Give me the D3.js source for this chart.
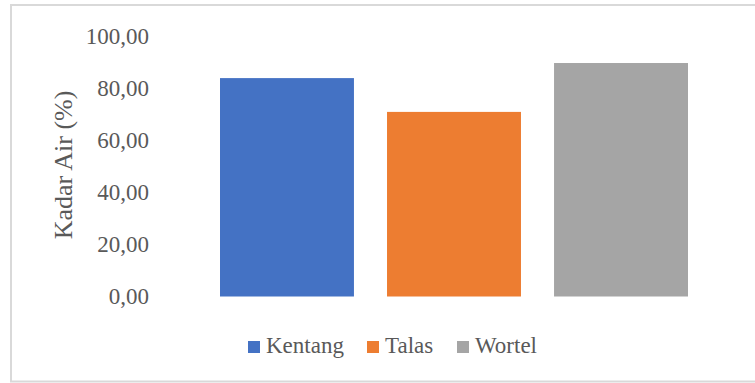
<!DOCTYPE html>
<html><head><meta charset="utf-8">
<script src="https://cdn.jsdelivr.net/npm/d3@7"></script>
<style>body{margin:0;background:#fff}svg{display:block}</style>
</head><body>
<svg id="c" width="755" height="383"></svg>
<script>
const series = ["Kentang", "Talas", "Wortel"];
const values = [84.0, 71.0, 89.8];
const colors = ["#4472C4", "#ED7D31", "#A5A5A5"];
const yTicks = [0, 20, 40, 60, 80, 100];
const yTitle = "Kadar Air (%)";

const svg = d3.select("#c");
const font = "'Liberation Serif','Times New Roman',serif";
const textColor = "#595959";

svg.append("rect").attr("x", 11).attr("y", 5).attr("width", 800).attr("height", 376.5)
  .attr("fill", "none").attr("stroke", "#d9d9d9").attr("stroke-width", 2);

const y = d3.scaleLinear().domain([0, 100]).range([296.5, 36.5]);
const x = d3.scaleBand().domain(series).range([220, 688]).paddingInner(0.198).paddingOuter(0);

const yAxis = d3.axisLeft(y).tickValues(yTicks).tickSize(0).tickPadding(0)
  .tickFormat(d => d3.format(".2f")(d).replace(".", ","));
const ga = svg.append("g").attr("transform", "translate(149,0)").call(yAxis);
ga.select(".domain").remove();
ga.selectAll("text").attr("font-family", font).attr("font-size", 23).attr("fill", textColor).attr("dy", "0.32em");

svg.append("text").attr("transform", "translate(72,165) rotate(-90)")
  .attr("text-anchor", "middle").attr("font-family", font).attr("font-size", 26)
  .attr("fill", textColor).text(yTitle);

svg.selectAll("rect.bar").data(series).enter().append("rect").attr("class", "bar")
  .attr("x", d => x(d)).attr("width", x.bandwidth())
  .attr("y", (d, i) => y(values[i])).attr("height", (d, i) => y(0) - y(values[i]))
  .attr("fill", (d, i) => colors[i]);

const legendX = [248, 367, 457];
const lg = svg.append("g");
series.forEach((s, i) => {
  lg.append("rect").attr("x", legendX[i]).attr("y", 341).attr("width", 12).attr("height", 12).attr("fill", colors[i]);
  lg.append("text").attr("x", legendX[i] + 18).attr("y", 353).attr("font-family", font).attr("font-size", 23)
    .attr("fill", textColor).text(s);
});
</script>
</body></html>
